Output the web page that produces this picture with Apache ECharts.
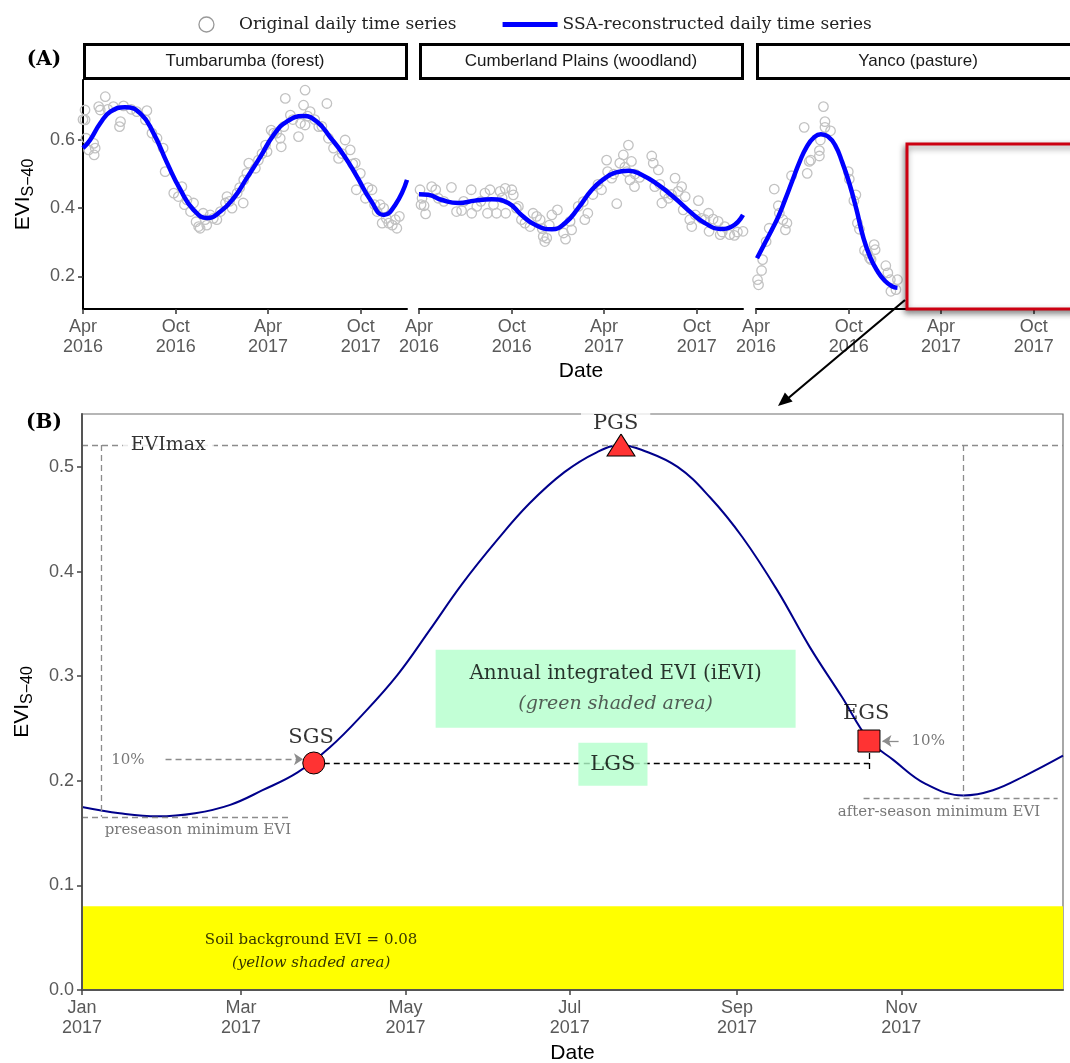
<!DOCTYPE html>
<html>
<head>
<meta charset="utf-8">
<title>EVI seasonality</title>
<script src="https://cdn.jsdelivr.net/npm/echarts@6/dist/echarts.min.js"></script>
<style>
  html, body { margin: 0; padding: 0; background: #fff; }
  #chart { width: 1070px; height: 1063px; }
</style>
</head>
<body>
<div id="chart"></div>
<script>
// ---------- panel A data ----------
const siteNames = ['Tumbarumba (forest)', 'Cumberland Plains (woodland)', 'Yanco (pasture)']
const rangeA = ['2016-04-01', '2017-12-31']
const ticksA = ['2016-04-01', '2016-10-01', '2017-04-01', '2017-10-01']
const ticksAY = [0.2, 0.4, 0.6]

const tumbaObs = [
  ['2016-04-01', 0.66], ['2016-04-05', 0.688], ['2016-04-05', 0.659], ['2016-04-07', 0.605], ['2016-04-12', 0.571],
  ['2016-04-22', 0.590], ['2016-04-23', 0.556], ['2016-04-25', 0.576], ['2016-05-02', 0.698], ['2016-05-05', 0.688],
  ['2016-05-15', 0.727], ['2016-05-20', 0.69], ['2016-05-31', 0.698], ['2016-06-12', 0.639], ['2016-06-14', 0.654],
  ['2016-06-20', 0.70], ['2016-07-05', 0.69], ['2016-07-16', 0.683], ['2016-08-02', 0.659], ['2016-08-05', 0.686],
  ['2016-08-15', 0.62], ['2016-08-25', 0.605], ['2016-09-06', 0.576], ['2016-09-10', 0.507], ['2016-09-27', 0.444],
  ['2016-10-06', 0.434], ['2016-10-13', 0.463], ['2016-10-18', 0.41], ['2016-10-23', 0.424], ['2016-10-30', 0.390],
  ['2016-11-05', 0.415], ['2016-11-10', 0.36], ['2016-11-15', 0.346], ['2016-11-18', 0.341], ['2016-11-24', 0.385],
  ['2016-11-28', 0.366], ['2016-12-01', 0.35], ['2016-12-08', 0.380], ['2016-12-14', 0.37], ['2016-12-21', 0.366],
  ['2016-12-28', 0.390], ['2017-01-07', 0.415], ['2017-01-10', 0.434], ['2017-01-15', 0.42], ['2017-01-20', 0.400],
  ['2017-01-30', 0.444], ['2017-02-04', 0.46], ['2017-02-11', 0.415], ['2017-02-12', 0.483], ['2017-02-18', 0.502],
  ['2017-02-22', 0.532], ['2017-03-07', 0.517], ['2017-03-13', 0.541], ['2017-03-20', 0.56], ['2017-03-27', 0.585],
  ['2017-03-30', 0.566], ['2017-04-07', 0.629], ['2017-04-12', 0.620], ['2017-04-18', 0.62], ['2017-04-25', 0.605],
  ['2017-04-27', 0.580], ['2017-05-02', 0.639], ['2017-05-05', 0.722], ['2017-05-15', 0.673], ['2017-05-20', 0.66],
  ['2017-05-31', 0.610], ['2017-06-04', 0.649], ['2017-06-10', 0.702], ['2017-06-13', 0.746], ['2017-06-13', 0.644],
  ['2017-06-18', 0.67], ['2017-06-23', 0.683], ['2017-07-02', 0.66], ['2017-07-10', 0.639], ['2017-07-16', 0.64],
  ['2017-07-26', 0.707], ['2017-07-29', 0.605], ['2017-08-08', 0.576], ['2017-08-18', 0.546], ['2017-08-25', 0.56],
  ['2017-08-31', 0.600], ['2017-09-10', 0.571], ['2017-09-15', 0.53], ['2017-09-20', 0.532], ['2017-09-22', 0.454],
  ['2017-09-30', 0.502], ['2017-10-10', 0.429], ['2017-10-15', 0.46], ['2017-10-23', 0.454], ['2017-10-28', 0.41],
  ['2017-11-02', 0.390], ['2017-11-08', 0.410], ['2017-11-12', 0.356], ['2017-11-15', 0.400], ['2017-11-20', 0.37],
  ['2017-11-25', 0.356], ['2017-12-02', 0.35], ['2017-12-08', 0.366], ['2017-12-11', 0.341], ['2017-12-16', 0.376]
]
const tumbaSsa = [
  ['2016-04-01', 0.576], ['2016-04-15', 0.600], ['2016-05-05', 0.649], ['2016-05-25', 0.683], ['2016-06-23', 0.696],
  ['2016-07-23', 0.678], ['2016-08-18', 0.620], ['2016-09-14', 0.532], ['2016-10-10', 0.454], ['2016-11-05', 0.395],
  ['2016-12-02', 0.371], ['2016-12-28', 0.390], ['2017-01-23', 0.429], ['2017-02-18', 0.488], ['2017-03-17', 0.551],
  ['2017-04-12', 0.615], ['2017-05-08', 0.654], ['2017-06-10', 0.670], ['2017-07-06', 0.654], ['2017-08-02', 0.607],
  ['2017-08-28', 0.556], ['2017-09-23', 0.493], ['2017-10-20', 0.424], ['2017-11-15', 0.380], ['2017-12-08', 0.410],
  ['2017-12-31', 0.483]
]

const cumberObs = [
  ['2016-04-03', 0.454], ['2016-04-05', 0.410], ['2016-04-07', 0.429], ['2016-04-11', 0.407], ['2016-04-14', 0.383],
  ['2016-04-26', 0.463], ['2016-05-04', 0.454], ['2016-05-09', 0.429], ['2016-05-20', 0.42], ['2016-06-04', 0.461],
  ['2016-06-14', 0.390], ['2016-06-24', 0.393], ['2016-06-28', 0.42], ['2016-07-13', 0.454], ['2016-07-14', 0.385],
  ['2016-07-24', 0.405], ['2016-08-01', 0.42], ['2016-08-09', 0.444], ['2016-08-14', 0.385], ['2016-08-19', 0.454],
  ['2016-08-26', 0.410], ['2016-09-01', 0.385], ['2016-09-08', 0.449], ['2016-09-12', 0.43], ['2016-09-18', 0.458],
  ['2016-09-19', 0.385], ['2016-10-01', 0.454], ['2016-10-04', 0.439], ['2016-10-10', 0.40], ['2016-10-14', 0.405],
  ['2016-10-20', 0.366], ['2016-10-27', 0.356], ['2016-11-06', 0.346], ['2016-11-12', 0.385], ['2016-11-19', 0.376],
  ['2016-11-26', 0.366], ['2016-11-30', 0.34], ['2016-12-02', 0.317], ['2016-12-05', 0.302], ['2016-12-09', 0.312],
  ['2016-12-14', 0.35], ['2016-12-19', 0.380], ['2016-12-30', 0.395], ['2017-01-11', 0.327], ['2017-01-15', 0.309],
  ['2017-01-24', 0.361], ['2017-01-27', 0.336], ['2017-02-09', 0.405], ['2017-02-19', 0.419], ['2017-02-22', 0.366],
  ['2017-02-28', 0.385], ['2017-03-10', 0.44], ['2017-03-20', 0.47], ['2017-03-27', 0.454], ['2017-04-06', 0.541],
  ['2017-04-08', 0.507], ['2017-04-16', 0.488], ['2017-04-20', 0.50], ['2017-04-26', 0.413], ['2017-05-02', 0.532],
  ['2017-05-09', 0.556], ['2017-05-12', 0.52], ['2017-05-16', 0.507], ['2017-05-19', 0.585], ['2017-05-22', 0.483],
  ['2017-05-25', 0.537], ['2017-05-31', 0.463], ['2017-06-01', 0.50], ['2017-06-10', 0.49], ['2017-07-04', 0.553],
  ['2017-07-07', 0.532], ['2017-07-10', 0.463], ['2017-07-17', 0.512], ['2017-07-20', 0.47], ['2017-07-24', 0.415],
  ['2017-07-30', 0.444], ['2017-08-06', 0.429], ['2017-08-12', 0.44], ['2017-08-19', 0.488], ['2017-08-25', 0.449],
  ['2017-09-01', 0.463], ['2017-09-04', 0.395], ['2017-09-08', 0.434], ['2017-09-17', 0.366], ['2017-09-21', 0.346],
  ['2017-09-28', 0.38], ['2017-10-04', 0.422], ['2017-10-10', 0.37], ['2017-10-17', 0.366], ['2017-10-24', 0.385],
  ['2017-10-25', 0.332], ['2017-11-02', 0.368], ['2017-11-12', 0.361], ['2017-11-16', 0.322], ['2017-11-20', 0.33],
  ['2017-11-25', 0.346], ['2017-12-05', 0.322], ['2017-12-14', 0.320], ['2017-12-20', 0.33], ['2017-12-31', 0.332]
]
const cumberSsa = [
  ['2016-04-01', 0.441], ['2016-04-19', 0.439], ['2016-05-16', 0.424], ['2016-06-18', 0.415], ['2016-07-20', 0.422],
  ['2016-08-22', 0.426], ['2016-09-24', 0.415], ['2016-10-20', 0.380], ['2016-11-16', 0.351], ['2016-12-19', 0.338],
  ['2017-01-14', 0.356], ['2017-02-09', 0.400], ['2017-03-08', 0.454], ['2017-04-03', 0.488], ['2017-04-23', 0.504],
  ['2017-05-19', 0.510], ['2017-06-14', 0.498], ['2017-07-17', 0.468], ['2017-08-19', 0.429], ['2017-09-21', 0.385],
  ['2017-10-17', 0.356], ['2017-11-16', 0.339], ['2017-12-09', 0.346], ['2017-12-31', 0.380]
]

const yancoObs = [
  ['2016-04-04', 0.190], ['2016-04-06', 0.175], ['2016-04-12', 0.217], ['2016-04-14', 0.249], ['2016-04-21', 0.302],
  ['2016-04-27', 0.341], ['2016-05-07', 0.456], ['2016-05-15', 0.407], ['2016-05-17', 0.385], ['2016-05-24', 0.366],
  ['2016-05-29', 0.336], ['2016-06-01', 0.356], ['2016-06-10', 0.495], ['2016-07-05', 0.637], ['2016-07-11', 0.502],
  ['2016-07-15', 0.537], ['2016-07-18', 0.541], ['2016-08-04', 0.553], ['2016-08-04', 0.569], ['2016-08-06', 0.600],
  ['2016-08-12', 0.698], ['2016-08-15', 0.654], ['2016-08-15', 0.637], ['2016-08-26', 0.627], ['2016-09-30', 0.507],
  ['2016-10-02', 0.485], ['2016-10-11', 0.422], ['2016-10-15', 0.439], ['2016-10-18', 0.356], ['2016-10-22', 0.338],
  ['2016-11-01', 0.276], ['2016-11-07', 0.268], ['2016-11-11', 0.253], ['2016-11-14', 0.249], ['2016-11-20', 0.293],
  ['2016-11-22', 0.278], ['2016-12-13', 0.231], ['2016-12-17', 0.210], ['2016-12-22', 0.190], ['2016-12-23', 0.156],
  ['2017-01-02', 0.161], ['2017-01-05', 0.190]
]
const yancoSsa = [
  ['2016-04-03', 0.253], ['2016-04-17', 0.293], ['2016-05-01', 0.333], ['2016-05-15', 0.375], ['2016-05-29', 0.427],
  ['2016-06-12', 0.482], ['2016-06-26', 0.536], ['2016-07-10', 0.580], ['2016-07-24', 0.607], ['2016-08-07', 0.617],
  ['2016-08-21', 0.610], ['2016-09-04', 0.585], ['2016-09-18', 0.535], ['2016-10-02', 0.473], ['2016-10-16', 0.397],
  ['2016-10-30', 0.312], ['2016-11-13', 0.253], ['2016-11-27', 0.214], ['2016-12-11', 0.187], ['2016-12-25', 0.171],
  ['2017-01-05', 0.166]
]

// ---------- panel B data (Yanco 2017 zoom) ----------
const rangeB = ['2017-01-01', '2017-12-31']
const ticksB = ['2017-01-01', '2017-03-01', '2017-05-01', '2017-07-01', '2017-09-01', '2017-11-01']
const ticksBY = [0, 0.1, 0.2, 0.3, 0.4, 0.5]
const curveB = [
  ['2017-01-01', 0.175], ['2017-01-15', 0.169], ['2017-01-29', 0.166], ['2017-02-12', 0.169], ['2017-02-25', 0.177],
  ['2017-03-09', 0.191], ['2017-03-22', 0.208], ['2017-04-03', 0.232], ['2017-04-15', 0.263], ['2017-04-28', 0.301],
  ['2017-05-10', 0.344], ['2017-05-22', 0.388], ['2017-06-04', 0.430], ['2017-06-16', 0.465], ['2017-06-29', 0.495],
  ['2017-07-11', 0.514], ['2017-07-20', 0.521], ['2017-07-28', 0.516], ['2017-08-10', 0.500], ['2017-08-22', 0.471],
  ['2017-09-03', 0.433], ['2017-09-16', 0.382], ['2017-09-28', 0.328], ['2017-10-10', 0.280], ['2017-10-20', 0.239],
  ['2017-10-29', 0.220], ['2017-11-10', 0.197], ['2017-11-24', 0.186], ['2017-12-05', 0.191], ['2017-12-17', 0.205],
  ['2017-12-31', 0.224]
]
const sgs = ['2017-03-28', 0.217]
const pgs = ['2017-07-20', 0.521]
const egs = ['2017-10-20', 0.238]
const evimax = 0.521
const soilEvi = 0.08
const preMin = ['2017-01-08', 0.1655]
const afterMin = ['2017-11-24', 0.186]
const afterMinLevel = 0.183

const LEG_OBS = 'Original daily time series'
const LEG_SSA = 'SSA-reconstructed daily time series'
const SANS = 'Liberation Sans'
const SERIF = 'DejaVu Serif'
const monthAbbr = ['Jan', 'Feb', 'Mar', 'Apr', 'May', 'Jun', 'Jul', 'Aug', 'Sep', 'Oct', 'Nov', 'Dec']

function t(s) {
  const p = s.split('-').map(Number)
  return new Date(p[0], p[1] - 1, p[2]).getTime()
}
const toXY = arr => arr.map(d => [t(d[0]), d[1]])
function dateLabel(v) {
  const d = new Date(v)
  return monthAbbr[d.getMonth()] + '\n' + d.getFullYear()
}

const facetLeft = [83, 419, 756]
const facetWidth = 324
const obsAll = [tumbaObs, cumberObs, yancoObs]
const ssaAll = [tumbaSsa, cumberSsa, yancoSsa]

const chart = echarts.init(document.getElementById('chart'))

const grids = facetLeft.map(l => ({ left: l, top: 80, width: facetWidth, height: 229, outerBoundsMode: 'none', containLabel: false }))
grids.push({ left: 82, top: 414, width: 981, height: 576, outerBoundsMode: 'none', containLabel: false, show: true, borderColor: '#6e6e6e', borderWidth: 1.2 })

const evName = '{a|EVI}{b|S\u221240}'
const evRich = {
  a: { fontSize: 21, fontFamily: SANS, color: '#000' },
  b: { fontSize: 16, fontFamily: SANS, color: '#000', padding: [12, 0, 0, 0] }
}

const xAxes = facetLeft.map((l, i) => ({
  type: 'value', gridIndex: i, min: t(rangeA[0]), max: t(rangeA[1]),
  axisLine: { show: true, onZero: false, lineStyle: { color: '#000', width: 2 } },
  axisTick: { show: true, customValues: ticksA.map(t), length: 5, lineStyle: { color: '#333', width: 1.5 } },
  axisLabel: { customValues: ticksA.map(t), formatter: dateLabel, color: '#595959', fontSize: 18, fontFamily: SANS, lineHeight: 20, margin: 8 },
  splitLine: { show: false },
  name: i === 1 ? 'Date' : '', nameLocation: 'middle', nameGap: 52,
  nameTextStyle: { fontSize: 21, fontFamily: SANS, color: '#000' }
}))
xAxes.push({
  type: 'value', gridIndex: 3, min: t(rangeB[0]), max: t(rangeB[1]), z: 10,
  axisLine: { show: true, onZero: false, lineStyle: { color: '#555', width: 2 } },
  axisTick: { show: true, customValues: ticksB.map(t), length: 5, lineStyle: { color: '#444', width: 1.5 } },
  axisLabel: { customValues: ticksB.map(t), formatter: dateLabel, color: '#595959', fontSize: 18, fontFamily: SANS, lineHeight: 20, margin: 8 },
  splitLine: { show: false },
  name: 'Date', nameLocation: 'middle', nameGap: 52,
  nameTextStyle: { fontSize: 21, fontFamily: SANS, color: '#000' }
})

const yAxes = facetLeft.map((l, i) => ({
  type: 'value', gridIndex: i, min: 0.104, max: 0.776, show: i === 0,
  axisLine: { show: true, onZero: false, lineStyle: { color: '#000', width: 2 } },
  axisTick: { show: true, customValues: ticksAY, length: 5, lineStyle: { color: '#333', width: 1.5 } },
  axisLabel: { customValues: ticksAY, formatter: v => v.toFixed(1), color: '#595959', fontSize: 18, fontFamily: SANS, margin: 8 },
  splitLine: { show: false },
  name: i === 0 ? evName : '', nameLocation: 'middle', nameGap: 46,
  nameTextStyle: { rich: evRich }
}))
yAxes.push({
  type: 'value', gridIndex: 3, min: 0, max: 0.5506, z: 10,
  axisLine: { show: true, onZero: false, lineStyle: { color: '#555', width: 2 } },
  axisTick: { show: true, customValues: ticksBY, length: 5, lineStyle: { color: '#444', width: 1.5 } },
  axisLabel: { customValues: ticksBY, formatter: v => v.toFixed(1), color: '#595959', fontSize: 18, fontFamily: SANS, margin: 8 },
  splitLine: { show: false },
  name: evName, nameLocation: 'middle', nameGap: 46,
  nameTextStyle: { rich: evRich }
})

const series = []
obsAll.forEach((d, i) => {
  series.push({
    name: LEG_OBS, type: 'scatter', xAxisIndex: i, yAxisIndex: i, data: toXY(d),
    symbol: 'circle', symbolSize: 9.5, z: 2,
    itemStyle: { color: 'rgba(255,255,255,0)', borderColor: '#c2c2c2', borderWidth: 1.3, opacity: 1 }
  })
})
ssaAll.forEach((d, i) => {
  series.push({
    name: LEG_SSA, type: 'line', xAxisIndex: i, yAxisIndex: i, data: toXY(d),
    smooth: 0.5, showSymbol: false, symbol: 'none', z: 3,
    lineStyle: { color: '#0000ff', width: 4.5 }, itemStyle: { color: '#0000ff' }
  })
})

const greyDash = { color: '#8c8c8c', type: [6, 4], width: 1.3 }
series.push({
  name: 'guides', type: 'line', xAxisIndex: 3, yAxisIndex: 3, data: [], z: 1, silent: true,
  markArea: {
    silent: true, itemStyle: { color: '#ffff00', opacity: 1 },
    data: [[{ coord: [t(rangeB[0]), 0] }, { coord: [t(rangeB[1]), soilEvi] }]]
  },
  markLine: {
    silent: true, symbol: ['none', 'none'], label: { show: false }, lineStyle: greyDash,
    data: [
      [{ coord: [t(rangeB[0]), evimax] }, { coord: [t(rangeB[1]), evimax] }],
      [{ coord: [t(preMin[0]), evimax] }, { coord: [t(preMin[0]), preMin[1]] }],
      [{ coord: [t(rangeB[0]), preMin[1]] }, { coord: [t('2017-03-19'), preMin[1]] }],
      [{ coord: [t(afterMin[0]), evimax] }, { coord: [t(afterMin[0]), afterMin[1]] }],
      [{ coord: [t('2017-10-18'), afterMinLevel] }, { coord: [t('2017-12-29'), afterMinLevel] }]
    ]
  }
})
series.push({
  name: 'arrows', type: 'line', xAxisIndex: 3, yAxisIndex: 3, data: [], z: 2, silent: true,
  markLine: {
    silent: true, symbol: ['none', 'arrow'], symbolSize: 9, label: { show: false }, lineStyle: greyDash,
    data: [
      [{ coord: [t('2017-02-01'), 0.2205] }, { coord: [t('2017-03-24'), 0.2205] }],
      [{ coord: [t('2017-10-31'), egs[1]], lineStyle: { type: 'solid' } }, { coord: [t('2017-10-25'), egs[1]] }]
    ]
  }
})
series.push({
  name: 'lgs', type: 'line', xAxisIndex: 3, yAxisIndex: 3, data: [], z: 2, silent: true,
  markLine: {
    silent: true, symbol: ['none', 'none'], label: { show: false },
    lineStyle: { color: '#000', type: [6, 4], width: 1.3 },
    data: [
      [{ coord: [t(sgs[0]), 0.2165] }, { coord: [t(egs[0]), 0.2165] }],
      [{ coord: [t(egs[0]), 0.2265] }, { coord: [t(egs[0]), 0.2085] }]
    ]
  }
})
series.push({
  name: 'curve', type: 'line', xAxisIndex: 3, yAxisIndex: 3, data: toXY(curveB), z: 3,
  smooth: 0.4, showSymbol: false, symbol: 'none',
  lineStyle: { color: '#00008b', width: 2 }
})
series.push({
  name: 'phenology', type: 'scatter', xAxisIndex: 3, yAxisIndex: 3, z: 5,
  itemStyle: { color: '#ff3333', borderColor: '#000', borderWidth: 1, opacity: 1 },
  data: [
    { value: [t(sgs[0]), sgs[1]], symbol: 'circle', symbolSize: 22 },
    { value: [t(pgs[0]), pgs[1]], symbol: 'triangle', symbolSize: [28, 22] },
    { value: [t(egs[0]), egs[1]], symbol: 'rect', symbolSize: 22 }
  ]
})

function note(date, v, text, style) {
  return {
    value: [t(date), v],
    label: Object.assign({ show: true, position: 'inside', formatter: text, fontFamily: SERIF, color: '#000' }, style)
  }
}
series.push({
  name: 'notes', type: 'scatter', xAxisIndex: 3, yAxisIndex: 3, z: 6, silent: true,
  symbolSize: 0, itemStyle: { color: 'rgba(0,0,0,0)' },
  data: [
    note('2017-02-02', evimax, 'EVImax', { fontSize: 19, backgroundColor: '#fff', padding: [2, 8] }),
    note('2017-07-18', 0.5415, 'PGS', { fontSize: 21, backgroundColor: '#fff', padding: [0, 12] }),
    note('2017-03-27', 0.2416, 'SGS', { fontSize: 21 }),
    note('2017-10-19', 0.2646, 'EGS', { fontSize: 21 }),
    note('2017-01-18', 0.2197, '10%', { fontSize: 15, color: '#555' }),
    note('2017-11-11', 0.238, '10%', { fontSize: 15, color: '#555' }),
    note('2017-02-13', 0.1528, 'preseason minimum EVI', { fontSize: 15, color: '#555' }),
    note('2017-11-15', 0.170, 'after-season minimum EVI', { fontSize: 15, color: '#555' }),
    note('2017-07-17', 0.2158, 'LGS', { fontSize: 21, backgroundColor: '#b3ffcc', padding: [11, 12] }),
    note('2017-07-18', 0.288, '{t|Annual integrated EVI (iEVI)}\n{i|(green shaded area)}', {
      backgroundColor: '#b3ffcc', padding: [9, 10], width: 340, align: 'center',
      rich: {
        t: { fontSize: 20, fontFamily: SERIF, color: '#000', lineHeight: 30 },
        i: { fontSize: 19, fontFamily: SERIF, fontStyle: 'italic', color: '#333', lineHeight: 30 }
      }
    }),
    note('2017-03-27', 0.037, '{t|Soil background EVI = 0.08}\n{i|(yellow shaded area)}', {
      align: 'center',
      rich: {
        t: { fontSize: 15, fontFamily: SERIF, color: '#000', lineHeight: 23 },
        i: { fontSize: 15, fontFamily: SERIF, fontStyle: 'italic', color: '#000', lineHeight: 23 }
      }
    })
  ]
})

// strips, panel tags, zoom box and arrow
const graphics = []
facetLeft.forEach((l, i) => {
  graphics.push({
    type: 'rect', z: 50, shape: { x: l + 1.5, y: 44.5, width: facetWidth - 2, height: 34 },
    style: { fill: '#fff', stroke: '#000', lineWidth: 3 }
  })
  graphics.push({
    type: 'text', z: 51, x: l + facetWidth / 2, y: 61,
    style: { text: siteNames[i], textAlign: 'center', textVerticalAlign: 'middle', font: '17px "Liberation Sans"', fill: '#1a1a1a' }
  })
})
graphics.push({ type: 'text', z: 51, x: 44, y: 60, style: { text: '(A)', textAlign: 'center', textVerticalAlign: 'middle', font: 'bold 20px "DejaVu Serif"', fill: '#000' } })
graphics.push({ type: 'text', z: 51, x: 44, y: 423, style: { text: '(B)', textAlign: 'center', textVerticalAlign: 'middle', font: 'bold 20px "DejaVu Serif"', fill: '#000' } })
graphics.push({
  type: 'rect', z: 60, shape: { x: 907, y: 144, width: 200, height: 165 },
  style: { fill: '#fff', stroke: '#cc0011', lineWidth: 3, shadowBlur: 6, shadowColor: 'rgba(0,0,0,0.45)', shadowOffsetX: -1, shadowOffsetY: 3 }
})
graphics.push({ type: 'line', z: 61, shape: { x1: 905, y1: 300, x2: 786, y2: 400 }, style: { stroke: '#000', lineWidth: 2.2 } })
graphics.push({ type: 'polygon', z: 61, shape: { points: [[778, 406], [792.6, 401.6], [784.9, 392.4]] }, style: { fill: '#000' } })

chart.setOption({
  animation: false,
  backgroundColor: '#fff',
  legend: {
    top: 11, left: 'center', itemGap: 46, itemWidth: 55, itemHeight: 15,
    textStyle: { fontFamily: SERIF, fontSize: 17, color: '#222' },
    data: [
      { name: LEG_OBS, icon: 'circle', itemStyle: { color: '#fff', borderColor: '#999', borderWidth: 1.3 } },
      { name: LEG_SSA, icon: 'path://M0,0H55V5H0Z', itemStyle: { color: '#0000ff', borderWidth: 0 } }
    ]
  },
  grid: grids,
  xAxis: xAxes,
  yAxis: yAxes,
  series: series,
  graphic: graphics
})
</script>
</body>
</html>
